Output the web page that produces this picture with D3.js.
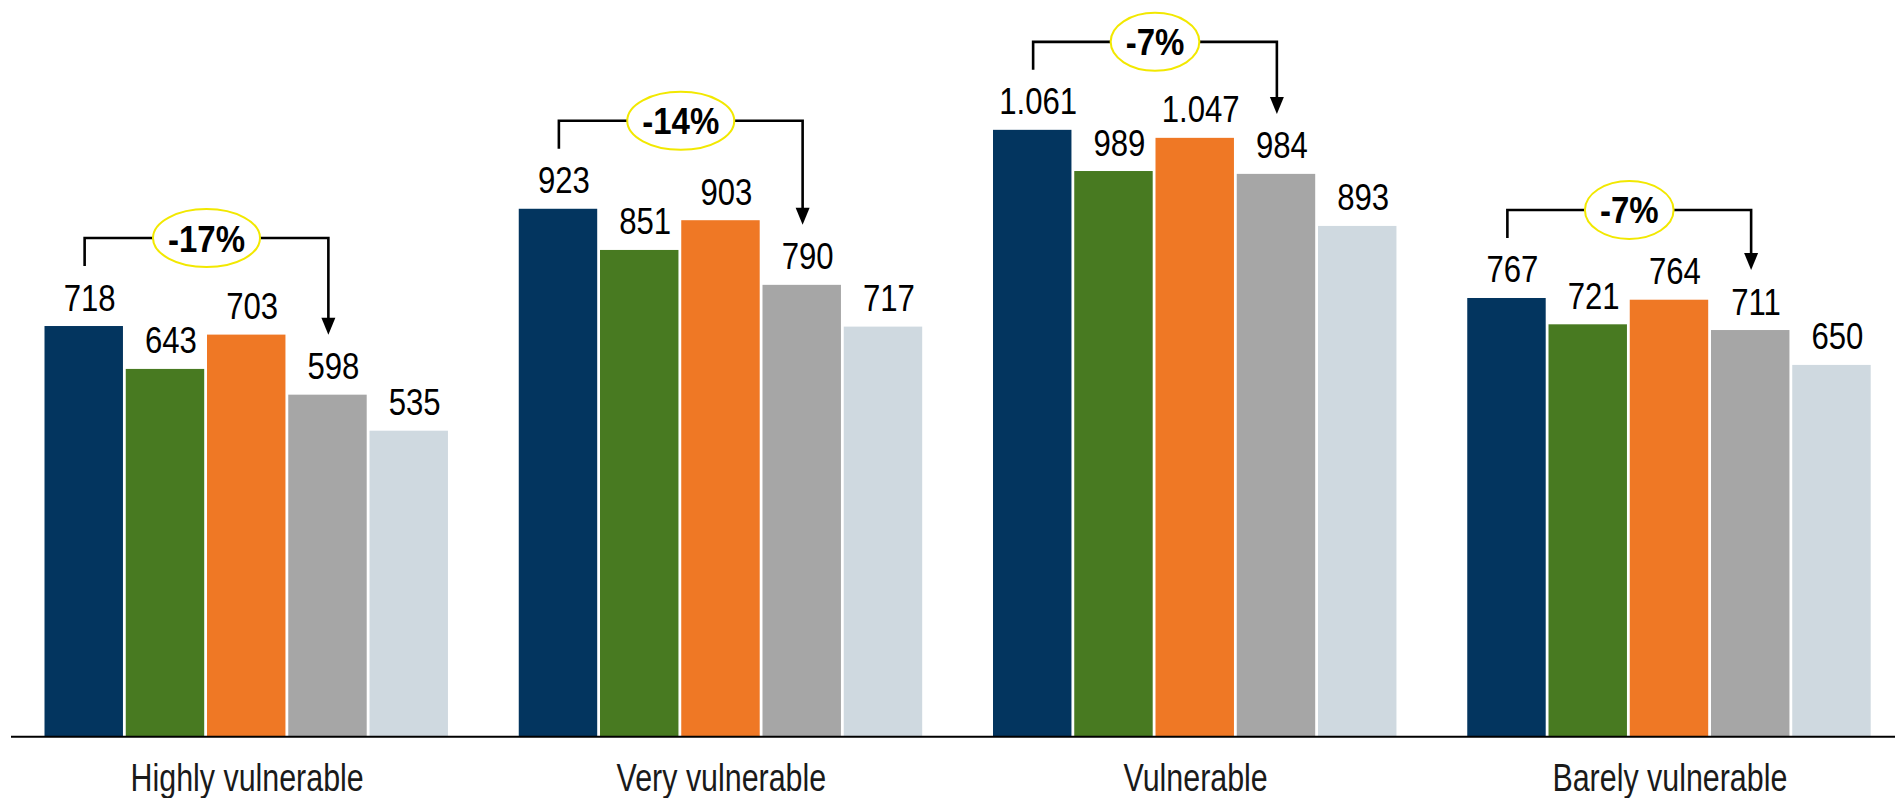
<!DOCTYPE html>
<html>
<head>
<meta charset="utf-8">
<script src="https://cdn.jsdelivr.net/npm/d3@7"></script>
<style>
  html, body { margin: 0; padding: 0; background: #fff; }
  svg { display: block; }
  text { font-family: "Liberation Sans", Arial, sans-serif; }
</style>
</head>
<body>
<svg id="chart" width="1895" height="798"></svg>
<script>
// ---- data ----
const categories = ["Highly vulnerable", "Very vulnerable", "Vulnerable", "Barely vulnerable"];
const seriesKeys = ["s1", "s2", "s3", "s4", "s5"];
const s1 = [718, 923, 1061, 767];
const s2 = [643, 851, 989, 721];
const s3 = [703, 903, 1047, 764];
const s4 = [598, 790, 984, 711];
const s5 = [535, 717, 893, 650];
const changeLabels = ["-17%", "-14%", "-7%", "-7%"];
const colors = ["#03355f", "#487a21", "#ef7825", "#a6a6a6", "#cfd9e0"];

const seriesValues = [s1, s2, s3, s4, s5];
const fmt = v => v >= 1000 ? d3.format(",")(v).replace(",", ".") : String(v);

// ---- layout ----
const W = 1895, H = 798;
const baseline = 736.7;
const NARROW = 0.83;
const svg = d3.select("#chart");

const y = d3.scaleLinear().domain([0, 1288]).range([baseline, 0]);
const x0 = d3.scaleBand().domain(categories).range([10, 1907])
  .paddingInner(0.1434).paddingOuter(0.0717);
const x1 = d3.scaleBand().domain(seriesKeys).range([0, x0.bandwidth()]).padding(0);
const color = d3.scaleOrdinal().domain(seriesKeys).range(colors);

const groups = svg.selectAll("g.grp").data(categories).join("g")
  .attr("class", "grp")
  .attr("transform", c => `translate(${x0(c)},0)`);

// bars
groups.selectAll("rect").data((c, i) => seriesKeys.map((k, j) => ({ k, v: seriesValues[j][i] })))
  .join("rect")
  .attr("x", d => x1(d.k) + 0.5)
  .attr("width", x1.bandwidth() - 2.8)
  .attr("y", d => y(d.v))
  .attr("height", d => baseline - y(d.v))
  .attr("fill", d => color(d.k));

// value labels
groups.selectAll("text.val").data((c, i) => seriesKeys.map((k, j) => ({ k, v: seriesValues[j][i] })))
  .join("text")
  .attr("class", "val")
  .attr("transform", d => `translate(${x1(d.k) + x1.bandwidth() / 2 + 5},${y(d.v) - 15.5}) scale(${NARROW},1)`)
  .attr("text-anchor", "middle")
  .attr("font-size", 37.5)
  .attr("fill", "#000")
  .text(d => fmt(d.v));

// x axis baseline
svg.append("line")
  .attr("x1", 11).attr("x2", W)
  .attr("y1", baseline).attr("y2", baseline)
  .attr("stroke", "#000").attr("stroke-width", 2);

// category labels
svg.selectAll("text.cat").data(categories).join("text")
  .attr("class", "cat")
  .attr("transform", c => `translate(${x0(c) + x0.bandwidth() / 2},791) scale(0.80,1)`)
  .attr("text-anchor", "middle")
  .attr("font-size", 38)
  .attr("fill", "#1a1a1a")
  .text(c => c);

// change annotations
categories.forEach((c, i) => {
  const g = svg.append("g").attr("transform", `translate(${x0(c)},0)`);
  const xa = x1("s1") + x1.bandwidth() / 2;
  const xb = x1("s4") + x1.bandwidth() / 2;
  const ya = y(s1[i]);
  const yb = y(s4[i]);
  const yTop = ya - 88;
  const tip = yb - 60;
  g.append("path")
    .attr("d", `M${xa},${ya - 60}V${yTop}H${xb}V${tip - 14}`)
    .attr("fill", "none").attr("stroke", "#000").attr("stroke-width", 2.6);
  g.append("path")
    .attr("d", `M${xb - 7},${tip - 17}L${xb + 7},${tip - 17}L${xb},${tip}Z`)
    .attr("fill", "#000");
  const xm = (xa + xb) / 2;
  const t = g.append("text")
    .attr("transform", `translate(${xm},${yTop + 13.5}) scale(0.88,1)`)
    .attr("text-anchor", "middle")
    .attr("font-size", 37.5).attr("font-weight", "bold")
    .attr("fill", "#000")
    .text(changeLabels[i]);
  const tw = t.node().getComputedTextLength() * 0.88;
  g.insert("ellipse", "text")
    .attr("cx", xm).attr("cy", yTop)
    .attr("rx", tw / 2 + 15).attr("ry", 29)
    .attr("fill", "#fff").attr("stroke", "#f2e800").attr("stroke-width", 2);
});
</script>
</body>
</html>
